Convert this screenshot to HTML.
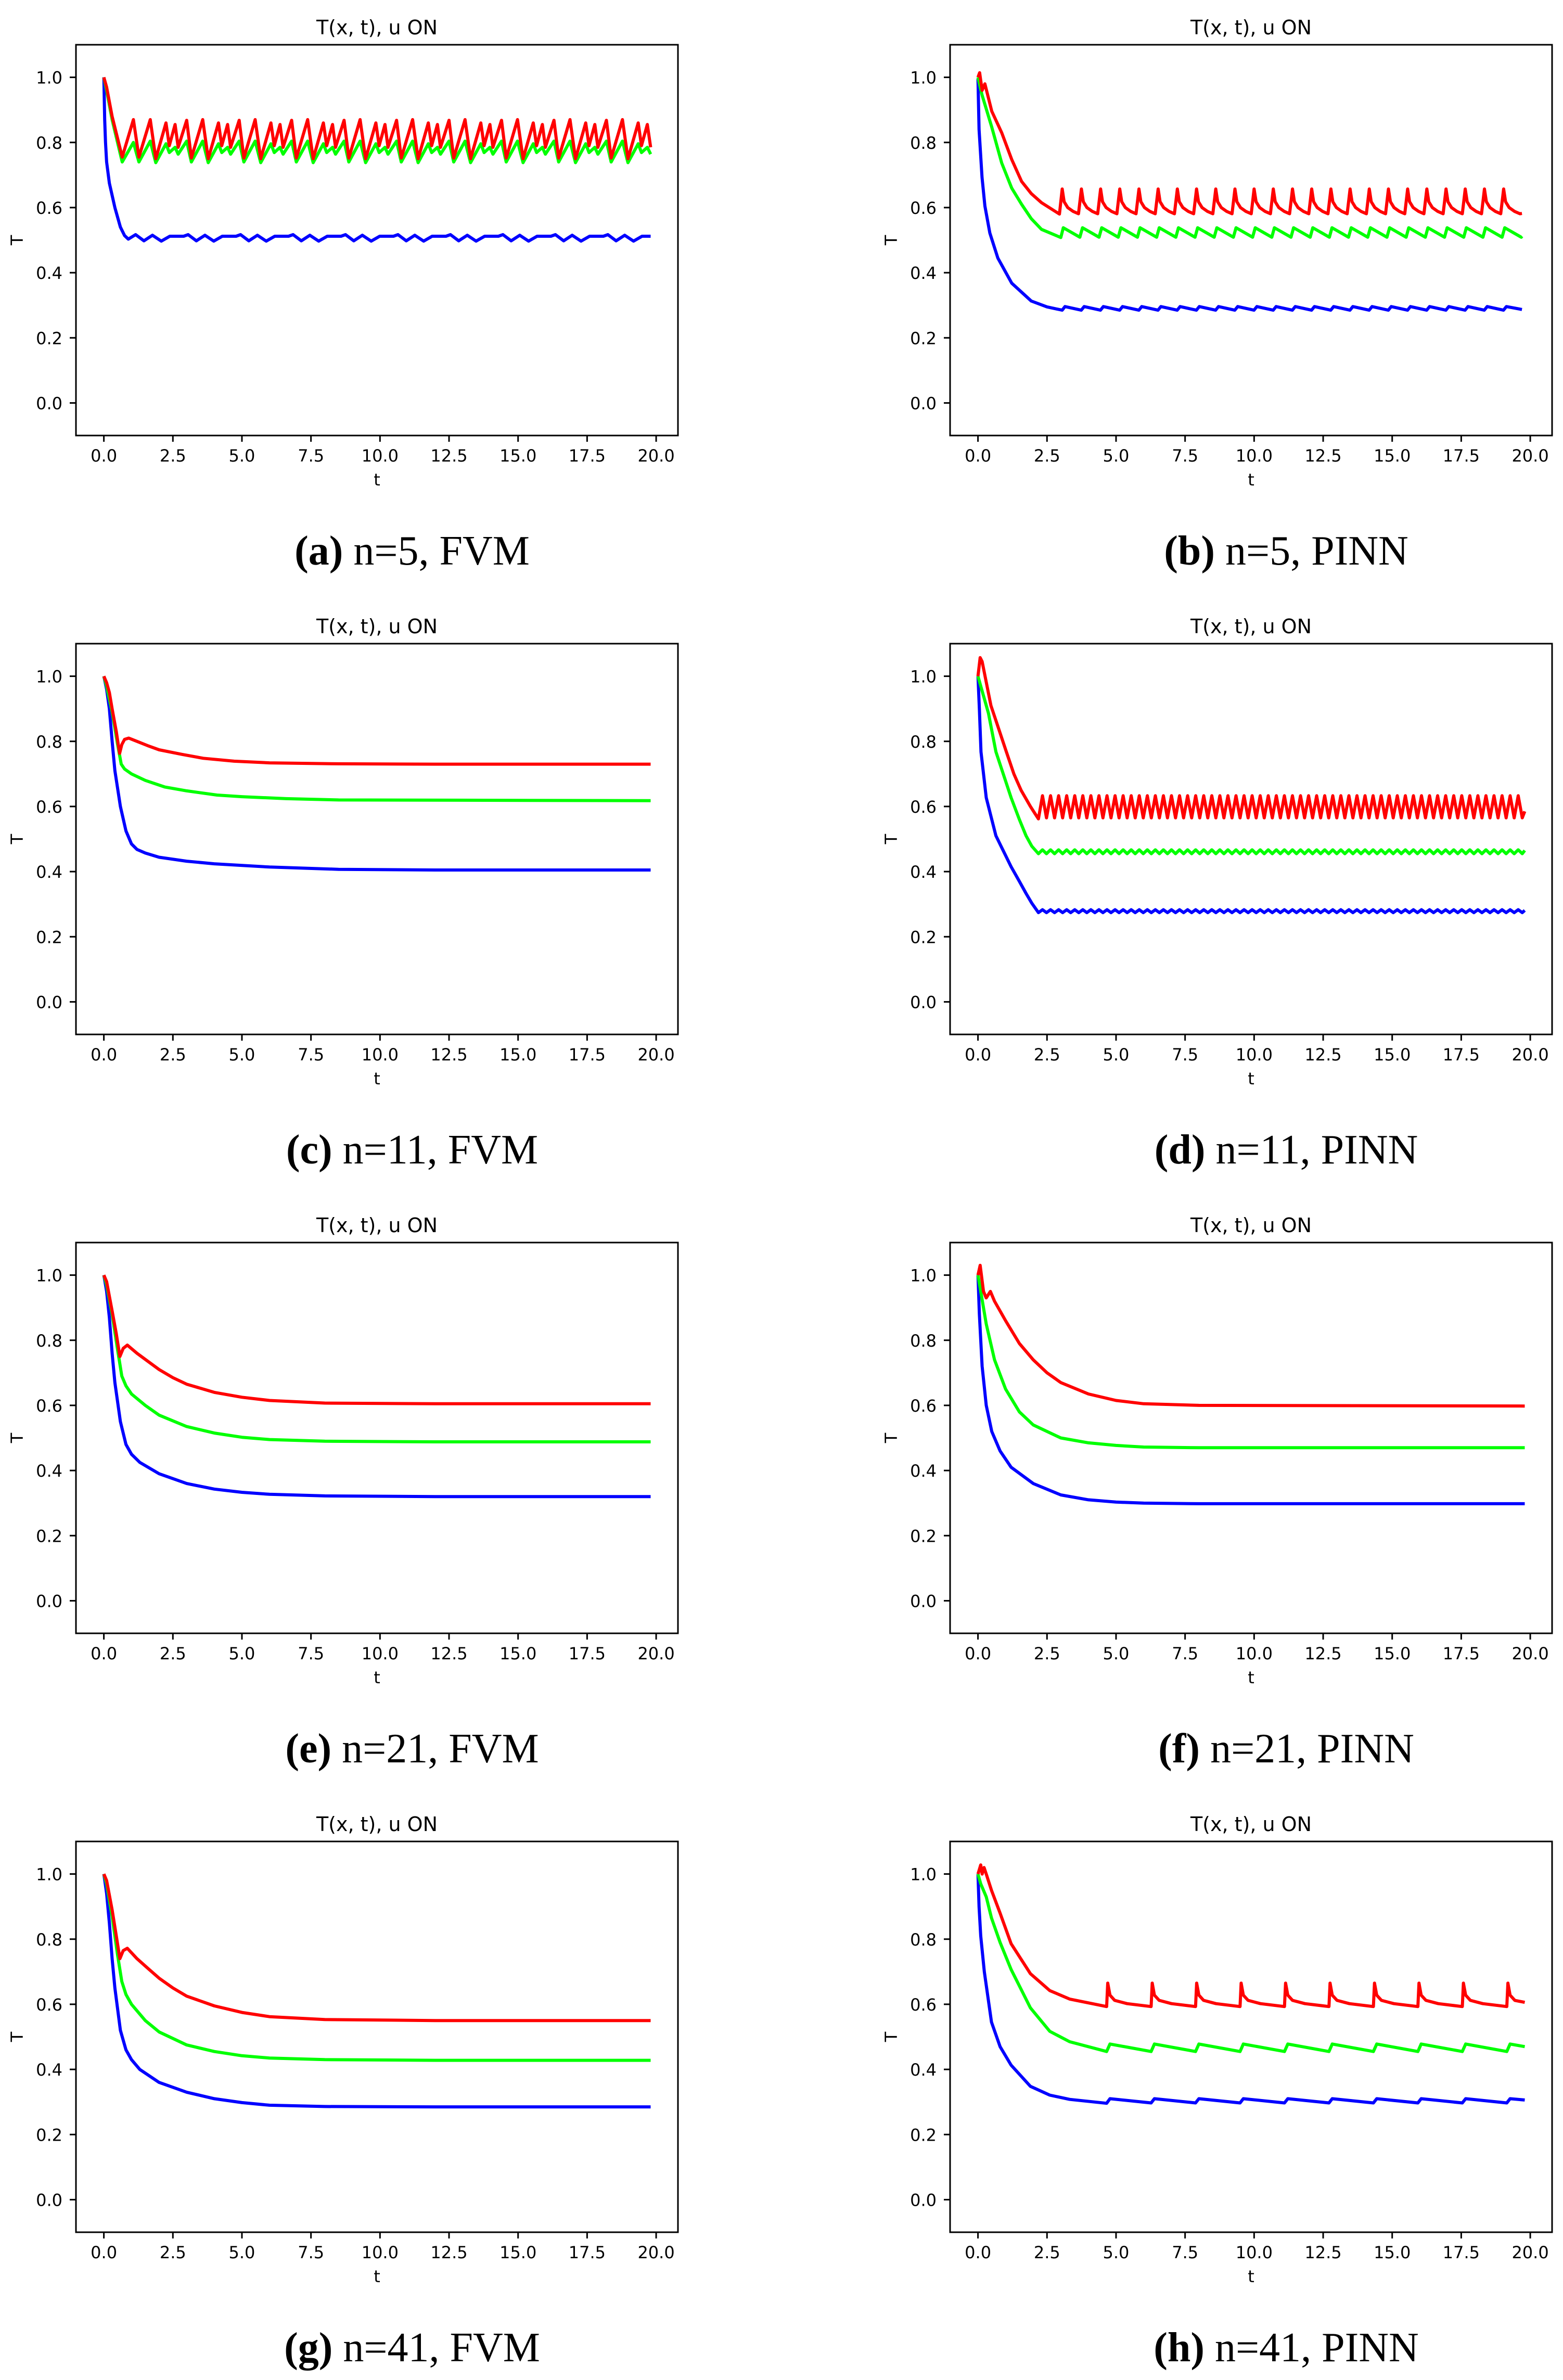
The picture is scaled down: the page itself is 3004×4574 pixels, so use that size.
<!DOCTYPE html>
<html><head><meta charset="utf-8"><title>T(x, t), u ON — FVM vs PINN</title>
<style>
html,body{margin:0;padding:0;background:#fff;}
svg{display:block;}
.tk{font-family:"DejaVu Sans","Liberation Sans",sans-serif;font-size:32px;fill:#000;}
.ttl{font-family:"DejaVu Sans","Liberation Sans",sans-serif;font-size:38px;fill:#000;}
.cap{font-family:"Liberation Serif",serif;font-size:80px;fill:#000;}
</style></head>
<body>
<svg id="fig" xmlns="http://www.w3.org/2000/svg" width="3004" height="4574" viewBox="0 0 3004 4574">
<rect x="0" y="0" width="3004" height="4574" fill="#fff"/>
</svg>
<script>
// ---------- shared axis data ----------
const X_TICKS=[0,2.5,5,7.5,10,12.5,15,17.5,20];
const X_TICK_LABELS=["0.0","2.5","5.0","7.5","10.0","12.5","15.0","17.5","20.0"];
const Y_TICKS=[0,0.2,0.4,0.6,0.8,1.0];
const Y_TICK_LABELS=["0.0","0.2","0.4","0.6","0.8","1.0"];
const X_LIM=[-1.01,20.79];
const Y_LIM=[-0.1,1.1];
const CAP_TAGS=["(a)","(b)","(c)","(d)","(e)","(f)","(g)","(h)"];
const CAP_TEXT=[" n=5, FVM"," n=5, PINN"," n=11, FVM"," n=11, PINN"," n=21, FVM"," n=21, PINN"," n=41, FVM"," n=41, PINN"];

// ---------- panel (a) n=5 FVM ----------
const aT=[0,0.1,0.3,0.665,1.07,1.27,
1.68,1.88,2.25,2.37,2.58,2.69,3.0,3.17,
3.58,3.78,4.15,4.27,4.48,4.59,4.9,5.07,
5.48,5.68,6.05,6.17,6.38,6.49,6.8,6.97,
7.38,7.58,7.95,8.07,8.28,8.39,8.7,8.87,
9.28,9.48,9.85,9.97,10.18,10.29,10.6,10.77,
11.18,11.38,11.75,11.87,12.08,12.19,12.5,12.67,
13.08,13.28,13.65,13.77,13.98,14.09,14.4,14.57,
14.98,15.18,15.55,15.67,15.88,15.99,16.3,16.47,
16.88,17.08,17.45,17.57,17.78,17.89,18.2,18.37,
18.78,18.98,19.35,19.47,19.68,19.8];
const aRedV=[1,0.97,0.88,0.755,0.87,0.755,
.87,.75,.86,.79,.855,.785,.868,.752,
.87,.75,.86,.79,.855,.785,.868,.752,
.87,.75,.86,.79,.855,.785,.868,.752,
.87,.75,.86,.79,.855,.785,.868,.752,
.87,.75,.86,.79,.855,.785,.868,.752,
.87,.75,.86,.79,.855,.785,.868,.752,
.87,.75,.86,.79,.855,.785,.868,.752,
.87,.75,.86,.79,.855,.785,.868,.752,
.87,.75,.86,.79,.855,.785,.868,.752,
.87,.75,.86,.79,.855,.785];
const aGreenV=[1,0.96,0.87,0.74,0.80,0.74,
.804,.738,.796,.769,.785,.764,.804,.74,
.804,.738,.796,.769,.785,.764,.804,.74,
.804,.738,.796,.769,.785,.764,.804,.74,
.804,.738,.796,.769,.785,.764,.804,.74,
.804,.738,.796,.769,.785,.764,.804,.74,
.804,.738,.796,.769,.785,.764,.804,.74,
.804,.738,.796,.769,.785,.764,.804,.74,
.804,.738,.796,.769,.785,.764,.804,.74,
.804,.738,.796,.769,.785,.764,.804,.74,
.804,.738,.796,.769,.785,.764];
const aBlueT=[0,0.03,0.06,0.1,0.2,0.4,0.6,0.75,0.885,
1.15,1.45,1.76,2.08,2.39,2.89, 3.05,3.35,3.66,3.98,4.29,4.79,
4.95,5.25,5.56,5.88,6.19,6.69, 6.85,7.15,7.46,7.78,8.09,8.59,
8.75,9.05,9.36,9.68,9.99,10.49, 10.65,10.95,11.26,11.58,11.89,12.39,
12.55,12.85,13.16,13.48,13.79,14.29, 14.45,14.75,15.06,15.38,15.69,16.19,
16.35,16.65,16.96,17.28,17.59,18.09, 18.25,18.55,18.86,19.18,19.49,19.8];
const aBlueV=[1,0.87,0.8,0.74,0.675,0.6,0.54,0.514,0.503,
.517,.498,.515,.497,.512,.512, .517,.498,.515,.497,.512,.512,
.517,.498,.515,.497,.512,.512, .517,.498,.515,.497,.512,.512,
.517,.498,.515,.497,.512,.512, .517,.498,.515,.497,.512,.512,
.517,.498,.515,.497,.512,.512, .517,.498,.515,.497,.512,.512,
.517,.498,.515,.497,.512,.512, .517,.498,.515,.497,.512,.512];

// ---------- panel (b) n=5 PINN ----------
const bSpikeT=[3.05,3.745,4.44,5.135,5.83,6.525,7.22,7.915,8.61,9.305,10.0,10.695,11.39,12.085,12.78,13.475,14.17,14.865,15.56,16.255,16.95,17.645,18.34,19.035];
const bRedHead=[[0,1.0],[0.06,1.014],[0.15,0.96],[0.25,0.98],[0.5,0.896],[0.86,0.83],[1.22,0.748],[1.58,0.68],[1.93,0.643],[2.3,0.615],[2.95,0.58]];
const bRedShapeDt=[0,0.07,0.2,0.4,0.59];
const bRedShapeV=[0.657,0.618,0.600,0.588,0.581];
const bRedTail=[[19.7,0.582]];
const bGreenHead=[[0,1.0],[0.146,0.946],[0.5,0.847],[0.86,0.737],[1.22,0.66],[1.58,0.61],[1.93,0.566],[2.3,0.533],[3.0,0.508]];
const bGreenShapeDt=[0.04,0.64];
const bGreenShapeV=[0.538,0.509];
const bGreenTail=[[19.7,0.512]];
const bBlueHead=[[0,0.995],[0.04,0.84],[0.146,0.693],[0.25,0.605],[0.43,0.522],[0.72,0.445],[1.22,0.368],[1.93,0.313],[2.5,0.295],[3.05,0.285]];
const bBlueShapeDt=[0.1,0.69];
const bBlueShapeV=[0.296,0.285];
const bBlueTail=[[19.7,0.287]];

// ---------- panel (c) n=11 FVM ----------
const cRed=[[0,1.0],[0.1,0.98],[0.2,0.95],[0.3,0.9],[0.45,0.83],[0.57,0.763],[0.65,0.79],[0.75,0.806],[0.9,0.81],[1.2,0.8],[1.58,0.787],[2.0,0.774],[2.83,0.76],[3.6,0.748],[4.72,0.739],[6.0,0.734],[8.49,0.731],[12,0.73],[19.8,0.73]];
const cGreen=[[0,1.0],[0.1,0.97],[0.3,0.89],[0.5,0.79],[0.63,0.73],[0.75,0.715],[1.0,0.7],[1.5,0.68],[2.2,0.66],[3.0,0.648],[4.1,0.635],[5.0,0.63],[6.6,0.624],[8.5,0.62],[19.8,0.618]];
const cBlue=[[0,1.0],[0.1,0.96],[0.2,0.9],[0.3,0.8],[0.4,0.71],[0.6,0.6],[0.8,0.525],[1.0,0.485],[1.2,0.468],[1.5,0.457],[2.0,0.444],[3.0,0.432],[4.0,0.424],[6.0,0.414],[8.5,0.407],[12,0.405],[19.8,0.405]];

// ---------- panel (d) n=11 PINN ----------
const dRedHead=[[0,1.0],[0.08,1.057],[0.15,1.045],[0.47,0.91],[1.02,0.77],[1.3,0.7],[1.56,0.65],[1.9,0.6],[2.05,0.58]];
const dGreenHead=[[0,1.0],[0.1,0.97],[0.38,0.886],[0.65,0.768],[1.2,0.627],[1.5,0.56],[1.74,0.51],[1.95,0.478]];
const dBlueHead=[[0,1.0],[0.05,0.9],[0.11,0.768],[0.3,0.627],[0.65,0.51],[1.2,0.415],[1.5,0.37],[1.74,0.333],[1.95,0.303]];
const dOscT0=2.19, dOscDt=0.146;
const dRedOsc=[0.562,
0.633,0.565,0.633,0.565,0.633,0.565,0.633,0.565,0.633,0.565,0.633,0.565,0.633,0.565,0.633,0.565,0.633,0.565,0.633,0.565,
0.633,0.565,0.633,0.565,0.633,0.565,0.633,0.565,0.633,0.565,0.633,0.565,0.633,0.565,0.633,0.565,0.633,0.565,0.633,0.565,
0.633,0.565,0.633,0.565,0.633,0.565,0.633,0.565,0.633,0.565,0.633,0.565,0.633,0.565,0.633,0.565,0.633,0.565,0.633,0.565,
0.633,0.565,0.633,0.565,0.633,0.565,0.633,0.565,0.633,0.565,0.633,0.565,0.633,0.565,0.633,0.565,0.633,0.565,0.633,0.565,
0.633,0.565,0.633,0.565,0.633,0.565,0.633,0.565,0.633,0.565,0.633,0.565,0.633,0.565,0.633,0.565,0.633,0.565,0.633,0.565,
0.633,0.565,0.633,0.565,0.633,0.565,0.633,0.565,0.633,0.565,0.633,0.565,0.633,0.565,0.633,0.565,0.633,0.565,0.633,0.565];
const dGreenOsc=[0.455,
0.467,0.455,0.467,0.455,0.467,0.455,0.467,0.455,0.467,0.455,0.467,0.455,0.467,0.455,0.467,0.455,0.467,0.455,0.467,0.455,
0.467,0.455,0.467,0.455,0.467,0.455,0.467,0.455,0.467,0.455,0.467,0.455,0.467,0.455,0.467,0.455,0.467,0.455,0.467,0.455,
0.467,0.455,0.467,0.455,0.467,0.455,0.467,0.455,0.467,0.455,0.467,0.455,0.467,0.455,0.467,0.455,0.467,0.455,0.467,0.455,
0.467,0.455,0.467,0.455,0.467,0.455,0.467,0.455,0.467,0.455,0.467,0.455,0.467,0.455,0.467,0.455,0.467,0.455,0.467,0.455,
0.467,0.455,0.467,0.455,0.467,0.455,0.467,0.455,0.467,0.455,0.467,0.455,0.467,0.455,0.467,0.455,0.467,0.455,0.467,0.455,
0.467,0.455,0.467,0.455,0.467,0.455,0.467,0.455,0.467,0.455,0.467,0.455,0.467,0.455,0.467,0.455,0.467,0.455,0.467,0.455];
const dBlueOsc=[0.274,
0.283,0.274,0.283,0.274,0.283,0.274,0.283,0.274,0.283,0.274,0.283,0.274,0.283,0.274,0.283,0.274,0.283,0.274,0.283,0.274,
0.283,0.274,0.283,0.274,0.283,0.274,0.283,0.274,0.283,0.274,0.283,0.274,0.283,0.274,0.283,0.274,0.283,0.274,0.283,0.274,
0.283,0.274,0.283,0.274,0.283,0.274,0.283,0.274,0.283,0.274,0.283,0.274,0.283,0.274,0.283,0.274,0.283,0.274,0.283,0.274,
0.283,0.274,0.283,0.274,0.283,0.274,0.283,0.274,0.283,0.274,0.283,0.274,0.283,0.274,0.283,0.274,0.283,0.274,0.283,0.274,
0.283,0.274,0.283,0.274,0.283,0.274,0.283,0.274,0.283,0.274,0.283,0.274,0.283,0.274,0.283,0.274,0.283,0.274,0.283,0.274,
0.283,0.274,0.283,0.274,0.283,0.274,0.283,0.274,0.283,0.274,0.283,0.274,0.283,0.274,0.283,0.274,0.283,0.274,0.283,0.274];
const dRedTail=[[19.8,0.585]];
const dGreenTail=[[19.8,0.465]];
const dBlueTail=[[19.8,0.281]];

// ---------- panel (e) n=21 FVM ----------
const eRed=[[0,1],[0.1,0.98],[0.3,0.89],[0.45,0.82],[0.58,0.75],[0.7,0.775],[0.85,0.785],[1.2,0.76],[1.6,0.735],[2,0.71],[2.5,0.685],[3,0.665],[4,0.64],[5,0.625],[6,0.615],[8,0.607],[12,0.605],[19.8,0.605]];
const eGreen=[[0,1],[0.1,0.97],[0.3,0.88],[0.5,0.77],[0.65,0.69],[0.8,0.66],[1.0,0.635],[1.5,0.6],[2,0.57],[3,0.535],[4,0.515],[5,0.502],[6,0.495],[8,0.49],[12,0.488],[19.8,0.488]];
const eBlue=[[0,1],[0.1,0.95],[0.2,0.87],[0.3,0.76],[0.4,0.67],[0.6,0.55],[0.8,0.48],[1.0,0.45],[1.3,0.425],[2,0.39],[3,0.36],[4,0.343],[5,0.333],[6,0.327],[8,0.322],[12,0.32],[19.8,0.32]];

// ---------- panel (f) n=21 PINN ----------
const fRed=[[0,1],[0.08,1.03],[0.2,0.95],[0.3,0.93],[0.45,0.95],[0.6,0.92],[1.0,0.86],[1.5,0.79],[2,0.74],[2.5,0.70],[3,0.67],[4,0.635],[5,0.615],[6,0.605],[8,0.6],[19.8,0.598]];
const fGreen=[[0,1],[0.1,0.95],[0.3,0.85],[0.6,0.74],[1,0.65],[1.5,0.58],[2,0.54],[3,0.5],[4,0.485],[5,0.477],[6,0.472],[8,0.47],[19.8,0.47]];
const fBlue=[[0,1],[0.05,0.88],[0.15,0.72],[0.3,0.6],[0.5,0.52],[0.8,0.46],[1.2,0.41],[2,0.36],[3,0.325],[4,0.31],[5,0.303],[6,0.3],[8,0.298],[19.8,0.298]];

// ---------- panel (g) n=41 FVM ----------
const gRed=[[0,1],[0.1,0.98],[0.3,0.89],[0.45,0.81],[0.58,0.74],[0.7,0.765],[0.85,0.772],[1.2,0.74],[1.6,0.71],[2,0.68],[2.5,0.65],[3,0.625],[4,0.595],[5,0.575],[6,0.562],[8,0.553],[12,0.55],[19.8,0.55]];
const gGreen=[[0,1],[0.1,0.97],[0.3,0.87],[0.5,0.75],[0.65,0.67],[0.8,0.63],[1.0,0.6],[1.5,0.55],[2,0.515],[3,0.475],[4,0.455],[5,0.442],[6,0.435],[8,0.43],[12,0.428],[19.8,0.428]];
const gBlue=[[0,1],[0.1,0.94],[0.2,0.85],[0.3,0.74],[0.4,0.65],[0.6,0.52],[0.8,0.46],[1.0,0.43],[1.3,0.40],[2,0.36],[3,0.33],[4,0.31],[5,0.298],[6,0.29],[8,0.286],[12,0.285],[19.8,0.285]];

// ---------- panel (h) n=41 PINN ----------
const hSpikeT=[4.7,6.31,7.92,9.53,11.14,12.75,14.36,15.97,17.58,19.19];
const hRedHead=[[0,1],[0.1,1.028],[0.15,1.0],[0.22,1.02],[0.3,1.0],[0.49,0.95],[0.8,0.88],[1.2,0.786],[1.9,0.694],[2.6,0.642],[3.32,0.616],[4.66,0.593]];
const hRedShapeDt=[0,0.08,0.25,0.7,1.57];
const hRedShapeV=[0.665,0.628,0.612,0.602,0.593];
const hRedTail=[[19.8,0.606]];
const hGreenHead=[[0,1],[0.1,0.97],[0.3,0.93],[0.49,0.865],[0.8,0.79],[1.2,0.707],[1.9,0.589],[2.6,0.517],[3.32,0.485],[4.66,0.455]];
const hGreenShapeDt=[0.08,1.57];
const hGreenShapeV=[0.478,0.455];
const hGreenTail=[[19.8,0.47]];
const hBlueHead=[[0,1],[0.04,0.9],[0.1,0.81],[0.23,0.7],[0.49,0.545],[0.8,0.47],[1.2,0.413],[1.9,0.348],[2.6,0.321],[3.32,0.308],[4.66,0.296]];
const hBlueShapeDt=[0.08,1.57];
const hBlueShapeV=[0.31,0.297];
const hBlueTail=[[19.8,0.306]];

// ---------- helpers ----------
const NS="http://www.w3.org/2000/svg";
const svg=document.getElementById('fig');
function mk(tag,attrs,parent){const e=document.createElementNS(NS,tag);for(const k in attrs)e.setAttribute(k,attrs[k]);(parent||svg).appendChild(e);return e;}
function axes(col,row){
  const L=146+col*1680, T=86+row*1151, W=1157, H=751;
  return {L,T,W,H,
    x:t=>L+(t-X_LIM[0])/(X_LIM[1]-X_LIM[0])*W,
    y:v=>T+(Y_LIM[1]-v)/(Y_LIM[1]-Y_LIM[0])*H};
}
function fromTV(ts,vs){const p=[];for(let i=0;i<ts.length;i++)p.push([ts[i],vs[i]]);return p;}
function fromCycles(head,spikes,dts,vs,tail){
  const p=head.slice();
  const tEnd=tail[0][0];
  for(const s of spikes){for(let i=0;i<dts.length;i++){const t=s+dts[i];if(t<tEnd)p.push([t,vs[i]]);}}
  return p.concat(tail);
}
function fromOsc(head,t0,dt,vs,tail){
  const p=head.slice();
  for(let i=0;i<vs.length;i++)p.push([t0+i*dt,vs[i]]);
  return p.concat(tail);
}

const PANELS=[
 {col:0,row:0,blue:fromTV(aBlueT,aBlueV),green:fromTV(aT,aGreenV),red:fromTV(aT,aRedV)},
 {col:1,row:0,blue:fromCycles(bBlueHead,bSpikeT,bBlueShapeDt,bBlueShapeV,bBlueTail),
              green:fromCycles(bGreenHead,bSpikeT,bGreenShapeDt,bGreenShapeV,bGreenTail),
              red:fromCycles(bRedHead,bSpikeT,bRedShapeDt,bRedShapeV,bRedTail)},
 {col:0,row:1,blue:cBlue,green:cGreen,red:cRed},
 {col:1,row:1,blue:fromOsc(dBlueHead,dOscT0,dOscDt,dBlueOsc,dBlueTail),
              green:fromOsc(dGreenHead,dOscT0,dOscDt,dGreenOsc,dGreenTail),
              red:fromOsc(dRedHead,dOscT0,dOscDt,dRedOsc,dRedTail)},
 {col:0,row:2,blue:eBlue,green:eGreen,red:eRed},
 {col:1,row:2,blue:fBlue,green:fGreen,red:fRed},
 {col:0,row:3,blue:gBlue,green:gGreen,red:gRed},
 {col:1,row:3,blue:fromCycles(hBlueHead,hSpikeT,hBlueShapeDt,hBlueShapeV,hBlueTail),
              green:fromCycles(hGreenHead,hSpikeT,hGreenShapeDt,hGreenShapeV,hGreenTail),
              red:fromCycles(hRedHead,hSpikeT,hRedShapeDt,hRedShapeV,hRedTail)}
];
const COLORS={blue:"#0000ff",green:"#00ff00",red:"#ff0000"};

PANELS.forEach((P,idx)=>{
  const A=axes(P.col,P.row);
  const letter="abcdefgh"[idx];
  const g=mk('g',{});
  
  
  const defs=mk('defs',{},g);
  const cp=mk('clipPath',{id:'clip'+idx},defs);
  mk('rect',{x:A.L,y:A.T,width:A.W,height:A.H},cp);
  const ttl=mk('text',{x:A.L+A.W/2,y:A.T-20,'text-anchor':'middle',class:'ttl'},g);
  ttl.textContent="T(x, t), u ON";
  
  
  ['blue','green','red'].forEach(k=>{
    const d=P[k].map((p,i)=>(i?'L':'M')+A.x(p[0]).toFixed(1)+' '+A.y(p[1]).toFixed(1)).join(' ');
    const path=mk('path',{d:d,fill:'none',stroke:COLORS[k],'stroke-width':6,'stroke-linejoin':'round','stroke-linecap':'butt','clip-path':'url(#clip'+idx+')'},g);
    
    
  });
  const fr=mk('rect',{x:A.L,y:A.T,width:A.W,height:A.H,fill:'none',stroke:'#000','stroke-width':3},g);
  
  
  X_TICKS.forEach((t,i)=>{
    const xx=A.x(t);
    const tk=mk('line',{x1:xx,x2:xx,y1:A.T+A.H,y2:A.T+A.H+12,stroke:'#000','stroke-width':3},g);
    
    
    const lb=mk('text',{x:xx,y:A.T+A.H+50,'text-anchor':'middle',class:'tk'},g);
    lb.textContent=X_TICK_LABELS[i];
    
    
  });
  Y_TICKS.forEach((v,i)=>{
    const yy=A.y(v);
    const tk=mk('line',{x1:A.L-12,x2:A.L,y1:yy,y2:yy,stroke:'#000','stroke-width':3},g);
    
    
    const lb=mk('text',{x:A.L-26,y:yy+12,'text-anchor':'end',class:'tk'},g);
    lb.textContent=Y_TICK_LABELS[i];
    
    
  });
  const xl=mk('text',{x:A.L+A.W/2,y:A.T+A.H+96,'text-anchor':'middle',class:'tk'},g);
  xl.textContent="t";
  
  
  const yx=A.L-102, yy=A.T+A.H/2;
  const yl=mk('text',{x:yx,y:yy,'text-anchor':'middle',class:'tk',transform:'rotate(-90 '+yx+' '+yy+')'},g);
  yl.textContent="T";
  
  
  const cap=mk('text',{x:792+P.col*1680,y:1085+P.row*1151,'text-anchor':'middle',class:'cap'},g);
  
  
  const b=mk('tspan',{'font-weight':'bold'},cap);
  b.textContent=CAP_TAGS[idx];
  
  
  const r=mk('tspan',{},cap);
  r.textContent=CAP_TEXT[idx];
  
  
});
</script>
</body></html>
